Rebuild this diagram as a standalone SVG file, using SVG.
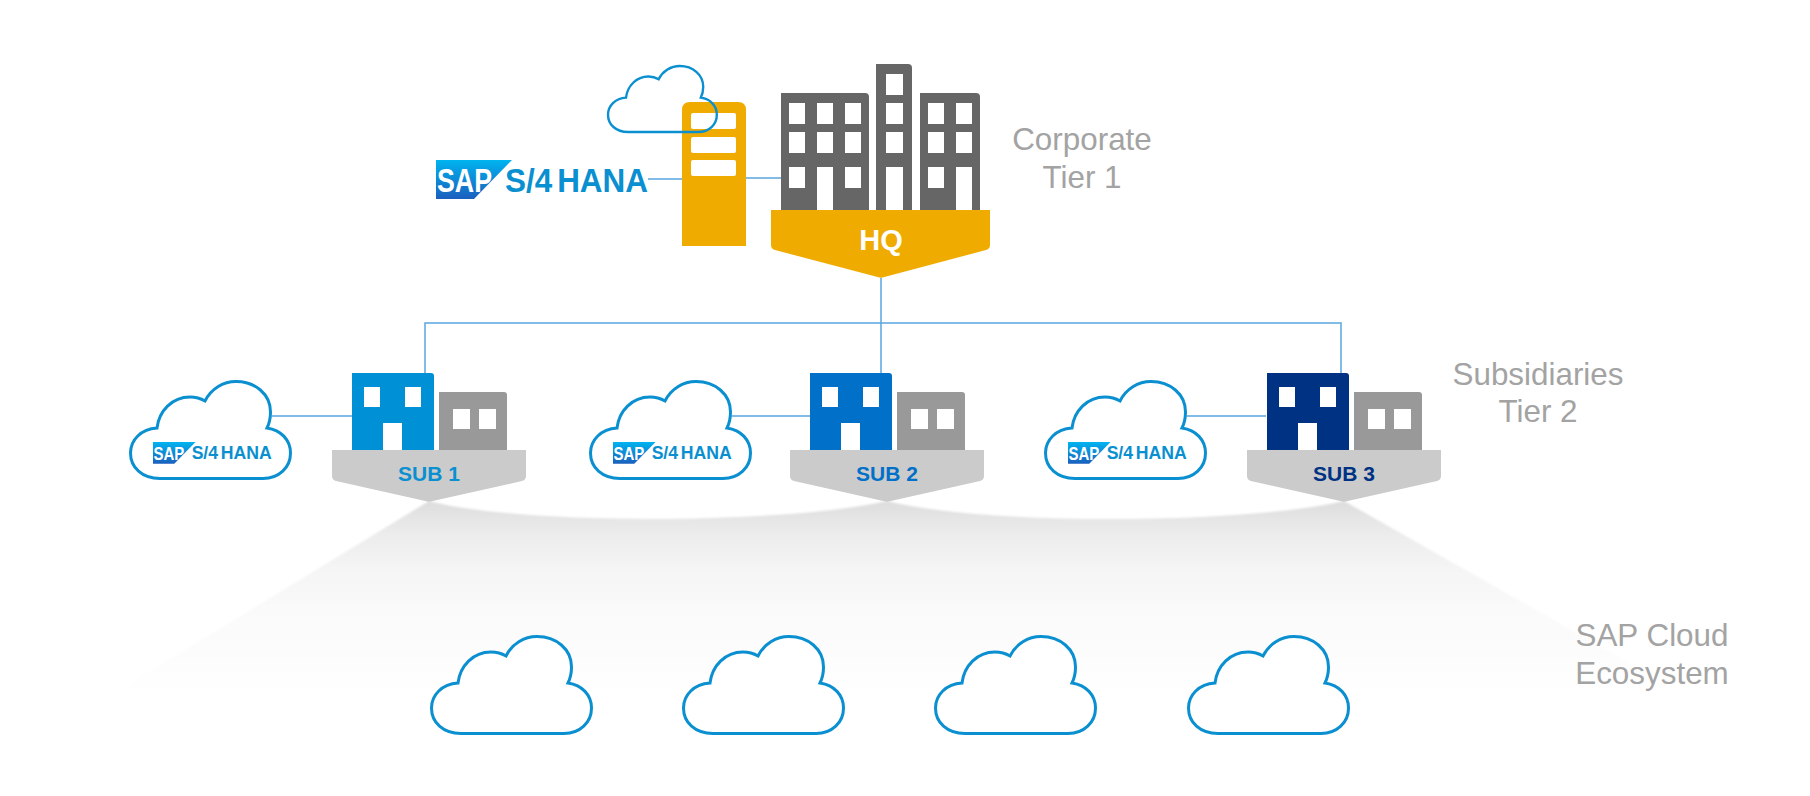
<svg xmlns="http://www.w3.org/2000/svg" width="1810" height="796" viewBox="0 0 1810 796">
<style>
text{font-family:"Liberation Sans",Arial,sans-serif}
.tier{fill:#a3a3a3;font-size:31.4px;text-anchor:middle}
.cloud{fill:#fff;stroke:#0a8fd0;stroke-width:3}
.conn{fill:none;stroke:#5aa5de;stroke-width:1.5}
.win{fill:#fff}
.grey{fill:#999}
.dark{fill:#666}
.ban{fill:#cbcbcb}
.sub{font-size:21px;font-weight:700;text-anchor:middle}
.sap{fill:#fff;font-size:33px;font-weight:700}
.hana{fill:#0a8fd0;font-size:33px;font-weight:700;word-spacing:-4px}
</style>
<defs>
<linearGradient id="logoG" x1="0" y1="0" x2="0" y2="1"><stop offset="0" stop-color="#00b4f0"/><stop offset="1" stop-color="#1b5fbd"/></linearGradient>
<linearGradient id="fan" gradientUnits="userSpaceOnUse" x1="0" y1="500" x2="0" y2="700"><stop offset="0" stop-color="#dcdcdc"/><stop offset=".08" stop-color="#e4e4e4"/><stop offset=".2" stop-color="#eeeeee"/><stop offset=".35" stop-color="#f5f5f5"/><stop offset=".55" stop-color="#fafafa"/><stop offset=".8" stop-color="#fdfdfd"/><stop offset="1" stop-color="#fff"/></linearGradient>
<filter id="soft" x="-5%" y="-5%" width="110%" height="110%"><feGaussianBlur stdDeviation="1.2"/></filter>
<path id="cl" d="M31 98.500H134C150 98.500 161.500 87.500 161.500 73C161.500 60 152 50 138 48C141 42 141.500 36 141.500 32C141.500 14 126 1.500 107 1.500C94 1.500 82 9 76 21C71 18 66 17 61 17C43 17 30 31 28 48C12 49 1.500 60 1.500 73C1.500 87.500 13 98.500 31 98.500Z"/>
<polygon id="logoP" points="0,0 76,0 38,39 0,39" fill="url(#logoG)"/>
<path id="ban" class="ban" d="M0 0H194V26Q194 30 190 31L98.500 51.500Q97 52 95.500 51.500L4 31Q0 30 0 26Z"/>
</defs>
<g id="ecosystem-fan"><path fill="url(#fan)" filter="url(#soft)" d="M429 501C520 525 780 525 887 501C980 525 1240 525 1344 501L1695 700H103Z"/></g>
<g id="connectors">
<path class="conn" d="M648 179H682M746 178H782M881 278V373M425 417V323H1341V373"/>
<path class="conn" d="M272 416H352M732 416H810M1187 416H1266"/>
</g>
<g id="s4hana-logo"><use href="#logoP" x="436" y="160"/><text class="sap" x="437" y="192" textLength="55" lengthAdjust="spacingAndGlyphs">SAP</text><text class="hana" x="505" y="192" textLength="143" lengthAdjust="spacingAndGlyphs">S/4 HANA</text></g>
<g id="server"><path fill="#f0ab00" d="M682 246V110Q682 102 690 102H738Q746 102 746 110V246Z"/><rect class="win" x="691" y="113" width="45" height="16" rx="2"/><rect class="win" x="691" y="137" width="45" height="16" rx="2"/><rect class="win" x="691" y="160" width="45" height="16" rx="2"/></g>
<g id="top-cloud"><use href="#cl" transform="translate(607 65) scale(.68)" fill="none" stroke="#0a8fd0" stroke-width="3.500"/></g>
<g id="hq">
<path class="dark" d="M781 211V93H865Q869 93 869 97V211Z"/>
<path class="win" d="M789 103h16v21h-16zM817 103h16v21h-16zM845 103h16v21h-16zM789 132h16v21h-16zM817 132h16v21h-16zM845 132h16v21h-16zM789 167h16v21h-16zM817 167h16v44h-16zM845 167h16v21h-16z"/>
<path class="dark" d="M876 211V64H908Q912 64 912 68V211Z"/>
<path class="win" d="M886 74h17v21h-17zM886 103h17v21h-17zM886 132h17v21h-17zM886 167h17v44h-17z"/>
<path class="dark" d="M920 211V93H976Q980 93 980 97V211Z"/>
<path class="win" d="M928 103h16v21h-16zM956 103h16v21h-16zM928 132h16v21h-16zM956 132h16v21h-16zM928 167h16v21h-16zM956 167h16v44h-16z"/>
<path fill="#f0ab00" d="M771 210H990V245Q990 249 986 250L882.500 277.600Q881 278 879.500 277.600L775 250Q771 249 771 245Z"/>
<text x="881" y="250" fill="#fff" font-size="29" font-weight="700" text-anchor="middle">HQ</text>
</g>
<g id="cloud-s1"><use href="#cl" class="cloud" transform="translate(129 380)"/><g transform="translate(153 442) scale(.56)"><use href="#logoP"/><text class="sap" x="1" y="32" textLength="55" lengthAdjust="spacingAndGlyphs">SAP</text><text class="hana" x="69" y="30" textLength="143" lengthAdjust="spacingAndGlyphs">S/4 HANA</text></g></g>
<g id="cloud-s2"><use href="#cl" class="cloud" transform="translate(589 380)"/><g transform="translate(613 442) scale(.56)"><use href="#logoP"/><text class="sap" x="1" y="32" textLength="55" lengthAdjust="spacingAndGlyphs">SAP</text><text class="hana" x="69" y="30" textLength="143" lengthAdjust="spacingAndGlyphs">S/4 HANA</text></g></g>
<g id="cloud-s3"><use href="#cl" class="cloud" transform="translate(1044 380)"/><g transform="translate(1068 442) scale(.56)"><use href="#logoP"/><text class="sap" x="1" y="32" textLength="55" lengthAdjust="spacingAndGlyphs">SAP</text><text class="hana" x="69" y="30" textLength="143" lengthAdjust="spacingAndGlyphs">S/4 HANA</text></g></g>
<g id="sub1" transform="translate(332 0)">
<path fill="#0090d6" d="M20 450V373H99Q102 373 102 376V450Z"/><path class="win" d="M32 387h16v20h-16zM73 387h16v20h-16zM51 423h19v27h-19z"/>
<path class="grey" d="M107 450V392H172Q175 392 175 395V450Z"/><path class="win" d="M121 409h17v20h-17zM147 409h17v20h-17z"/>
<use href="#ban" y="450"/><text class="sub" x="97" y="481" fill="#0a8fd0">SUB 1</text>
</g>
<g id="sub2" transform="translate(790 0)">
<path fill="#0070c9" d="M20 450V373H99Q102 373 102 376V450Z"/><path class="win" d="M32 387h16v20h-16zM73 387h16v20h-16zM51 423h19v27h-19z"/>
<path class="grey" d="M107 450V392H172Q175 392 175 395V450Z"/><path class="win" d="M121 409h17v20h-17zM147 409h17v20h-17z"/>
<use href="#ban" y="450"/><text class="sub" x="97" y="481" fill="#0070c9">SUB 2</text>
</g>
<g id="sub3" transform="translate(1247 0)">
<path fill="#003283" d="M20 450V373H99Q102 373 102 376V450Z"/><path class="win" d="M32 387h16v20h-16zM73 387h16v20h-16zM51 423h19v27h-19z"/>
<path class="grey" d="M107 450V392H172Q175 392 175 395V450Z"/><path class="win" d="M121 409h17v20h-17zM147 409h17v20h-17z"/>
<use href="#ban" y="450"/><text class="sub" x="97" y="481" fill="#003283">SUB 3</text>
</g>
<g id="eco-clouds">
<use href="#cl" class="cloud" transform="translate(430 635)"/>
<use href="#cl" class="cloud" transform="translate(682 635)"/>
<use href="#cl" class="cloud" transform="translate(934 635)"/>
<use href="#cl" class="cloud" transform="translate(1187 635)"/>
</g>
<g id="labels">
<text class="tier" x="1082" y="150">Corporate</text><text class="tier" x="1082" y="188">Tier 1</text>
<text class="tier" x="1538" y="385">Subsidiaries</text><text class="tier" x="1538" y="422">Tier 2</text>
<text class="tier" x="1652" y="646">SAP Cloud</text><text class="tier" x="1652" y="684">Ecosystem</text>
</g>
</svg>
